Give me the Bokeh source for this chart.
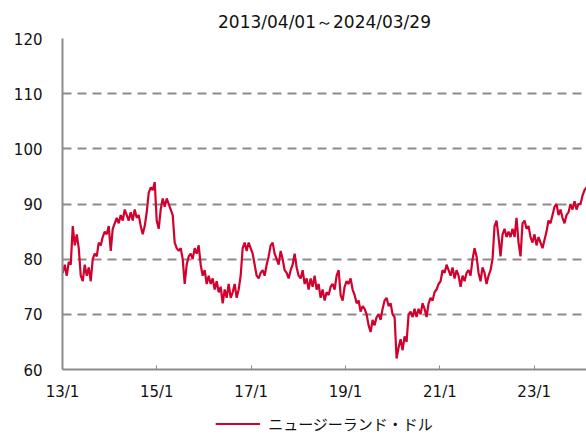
import pandas as pd
from bokeh.plotting import figure
from bokeh.layouts import column
from bokeh.models import (Range1d, FixedTicker, CustomJSTickFormatter, Legend, LegendItem)
from bokeh.embed import file_html
from bokeh.resources import INLINE

title_text = "2013/04/01～2024/03/29"
series_name = "ニュージーランド・ドル"
start_date = "2013-01-03"
end_date = "2024-02-10"
tick_years = [2013, 2015, 2017, 2019, 2021, 2023]
y_ticks = [60, 70, 80, 90, 100, 110, 120]

nzd_jpy = [
    77.5, 79, 77, 79.5, 79, 86, 82.5, 84.5, 82, 77,
    76, 79, 77, 78.5, 76, 80, 81, 80.5, 83, 82.5,
    84, 85, 84.5, 86, 81.5, 85.5, 86.5, 87.5, 86.5, 88,
    87, 89, 88, 87, 88.5, 87, 89, 87.5, 88, 86,
    84.5, 86, 88.5, 92, 93, 92.5, 94, 87, 85.5, 89,
    91, 89.5, 91, 90, 89, 88, 83, 82, 81.5, 82,
    80, 75.5, 79, 80.5, 81, 80, 82, 81, 82.5, 79,
    77, 78, 75.5, 77, 75.5, 76.5, 74.5, 76, 74, 75,
    72, 74.5, 73, 75.5, 73, 74, 75.5, 73, 74.5, 77,
    82, 83, 81.5, 83, 82, 81, 79, 77, 76.5, 77.5,
    78, 77, 79, 80.5, 82.5, 83, 81, 80, 79, 81.5,
    80, 78, 77.5, 76.5, 78, 79, 81, 78.5, 77, 76.5,
    78, 75.5, 76.5, 74.5, 76.5, 75, 77, 74.5, 75.5, 73,
    74.5, 72.5, 74, 73.5, 75, 75.5, 74.5, 77, 78, 73.5,
    72.5, 75, 76, 75.5, 76.5, 74.5, 73.5, 72, 72.5, 70.5,
    71.5, 71, 70, 68, 66.8, 69, 68, 69.5, 70, 69,
    71, 72.5, 73, 71.5, 72, 70, 69.5, 62, 64, 65.5,
    63.5, 66, 65, 70, 70.5, 69.5, 71, 69.5, 71, 70,
    72, 71, 69.5, 72, 73, 72.5, 74, 74.5, 75.5, 76,
    78, 77.5, 79, 78, 77, 78.5, 76.5, 78, 77, 75,
    77, 76, 77.5, 78, 77, 80, 82, 80.5, 77.5, 76,
    78.5, 77.5, 75.5, 77, 78, 80, 86, 87, 84, 80.5,
    84.5, 85.5, 84, 85, 84, 85.5, 84, 87.5, 83, 80.5,
    86.5, 87, 85.5, 86, 84, 83, 84.5, 82.5, 84, 83,
    82, 83.5, 85, 87, 86.5, 88, 89.5, 90, 88, 89,
    87.5, 86.5, 88, 88.5, 90, 89, 90.5, 89, 90, 90,
    91.5, 92.5, 93,
]

dates = pd.date_range(start=start_date, end=end_date, periods=len(nzd_jpy))

FONT = "DejaVu Sans"
GRAY = "#8c8c8c"
RED = "#D2002C"

x0 = pd.Timestamp("2013-01-01")
x1 = pd.Timestamp(end_date)

p = figure(width=586, height=404, x_axis_type="datetime",
           x_range=Range1d(x0, x1), y_range=Range1d(60, 120),
           output_backend="svg", toolbar_location=None,
           min_border_left=62, min_border_right=0, min_border_top=38,
           min_border_bottom=35)

r = p.line(dates, nzd_jpy, line_color=RED, line_width=2.2)

p.title.text = title_text
p.title.align = "center"
p.title.text_font = FONT
p.title.text_font_size = "17px"
p.title.text_font_style = "normal"
p.title.text_color = "#111111"
p.title.standoff = 14

p.outline_line_color = None
p.background_fill_color = "white"
p.border_fill_color = "white"

p.xgrid.grid_line_color = None
p.ygrid.grid_line_color = GRAY
p.ygrid.grid_line_width = 2
p.ygrid.grid_line_dash = "9 6"

p.yaxis.ticker = FixedTicker(ticks=y_ticks)
p.yaxis.axis_line_color = GRAY
p.yaxis.axis_line_width = 2
p.yaxis.major_tick_in = 0
p.yaxis.major_tick_out = 0
p.yaxis.minor_tick_line_color = None
p.yaxis.major_label_standoff = 20
p.yaxis.major_label_text_font = FONT
p.yaxis.major_label_text_font_size = "15px"
p.yaxis.major_label_text_color = "#111111"

tick_ms = [pd.Timestamp(f"{y}-01-01").value / 1e6 for y in tick_years]
p.xaxis.ticker = FixedTicker(ticks=tick_ms)
p.xaxis.formatter = CustomJSTickFormatter(code="""
const d = new Date(tick);
return String(d.getUTCFullYear()).slice(2) + "/" + (d.getUTCMonth() + 1);
""")
p.xaxis.axis_line_color = GRAY
p.xaxis.axis_line_width = 2
p.xaxis.major_tick_in = 4
p.xaxis.major_tick_out = 0
p.xaxis.major_tick_line_color = GRAY
p.xaxis.major_tick_line_width = 1
p.xaxis.minor_tick_line_color = None
p.xaxis.major_label_standoff = 13
p.xaxis.major_label_text_font = FONT
p.xaxis.major_label_text_font_size = "15px"
p.xaxis.major_label_text_color = "#111111"

# legend strip underneath the chart: same series, drawn outside the strip's
# visible y window so that only its legend entry shows
q = figure(width=586, height=30, x_axis_type="datetime",
           x_range=Range1d(x0, x1), y_range=Range1d(0, 1),
           output_backend="svg", toolbar_location=None,
           x_axis_location=None, y_axis_location=None,
           min_border_left=57, min_border_right=0, min_border_top=8,
           min_border_bottom=0)
q.outline_line_color = None
q.xgrid.grid_line_color = None
q.ygrid.grid_line_color = None
rl = q.line(dates, nzd_jpy, line_color=RED, line_width=2.2)
legend = Legend(items=[LegendItem(label=series_name, renderers=[rl])],
                location="center", orientation="horizontal",
                glyph_width=45, glyph_height=20, label_standoff=8,
                padding=0, margin=0, spacing=0,
                border_line_color=None, background_fill_alpha=0,
                label_text_font="Noto Sans CJK JP", label_text_font_size="15px",
                label_text_color="#111111")
q.add_layout(legend)

layout = column(p, q, spacing=0)
open("out.html", "w").write(file_html(layout, INLINE))
